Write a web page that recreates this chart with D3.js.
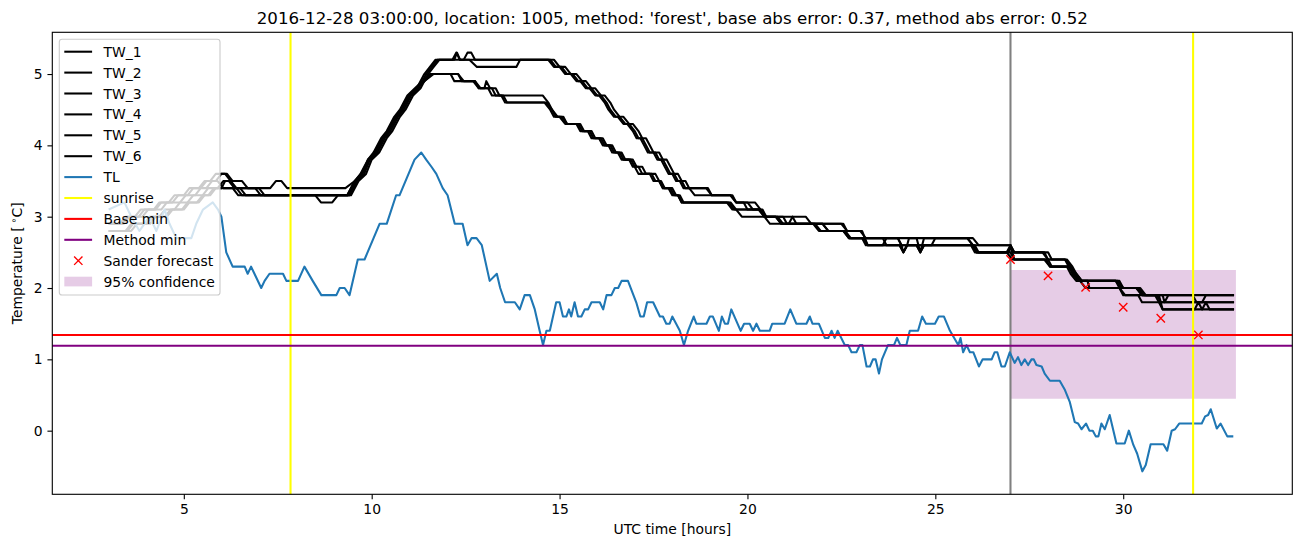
<!DOCTYPE html>
<html><head><meta charset="utf-8">
<script src="https://cdn.jsdelivr.net/npm/d3@7"></script>
<style>body{margin:0;background:#fff}svg{display:block}text{font-family:"DejaVu Sans",sans-serif;fill:#000}</style>
</head><body><svg id="c" width="1302" height="547"></svg>
<script>
const titleText = "2016-12-28 03:00:00, location: 1005, method: 'forest', base abs error: 0.37, method abs error: 0.52";
const xTicks = [5, 10, 15, 20, 25, 30];
const yTicks = [0, 1, 2, 3, 4, 5];
const legendLabels = ["TW_1","TW_2","TW_3","TW_4","TW_5","TW_6","TL","sunrise","Base min","Method min","Sander forecast","95% confidence"];

const tlHours = [3.0,3.42,3.6,3.82,4.09,4.27,4.49,4.62,4.8,5.2,5.33,5.51,5.77,5.91,6.0,6.13,6.3,6.62,6.7,6.79,6.88,7.06,7.15,7.28,7.64,7.73,8.04,8.21,8.43,8.66,9.06,9.15,9.28,9.41,9.63,9.81,10.21,10.4,10.65,10.74,11.14,11.32,11.45,11.59,11.72,11.89,12.02,12.21,12.42,12.55,12.66,12.79,12.93,13.14,13.33,13.42,13.55,13.81,13.94,14.07,14.21,14.34,14.47,14.56,14.65,14.74,14.91,15.0,15.09,15.18,15.25,15.31,15.4,15.49,15.58,15.67,15.76,15.85,16.07,16.16,16.25,16.38,16.47,16.56,16.65,16.82,17.04,17.15,17.24,17.33,17.49,17.67,17.75,17.84,17.93,18.0,18.2,18.31,18.42,18.57,18.64,18.91,19.0,19.08,19.24,19.32,19.4,19.48,19.57,19.82,19.91,20.06,20.15,20.24,20.33,20.59,20.66,20.99,21.14,21.3,21.57,21.66,21.73,21.9,22.06,22.15,22.24,22.32,22.4,22.59,22.68,22.77,22.9,22.99,23.06,23.17,23.26,23.34,23.41,23.5,23.58,23.74,23.9,23.98,24.07,24.23,24.32,24.54,24.65,24.75,24.99,25.09,25.23,25.39,25.61,25.67,25.74,25.83,25.92,26.01,26.16,26.26,26.5,26.58,26.65,26.76,26.85,26.98,27.11,27.2,27.29,27.38,27.47,27.56,27.62,27.69,27.83,27.91,28.05,28.31,28.45,28.58,28.71,28.8,28.89,29.01,29.1,29.19,29.27,29.34,29.42,29.51,29.64,29.82,30.04,30.15,30.27,30.37,30.51,30.6,30.73,31.07,31.17,31.29,31.38,31.49,32.09,32.18,32.26,32.33,32.49,32.59,32.77,32.93];
const tlValues = [3.1,3.2,3.0,2.8,3.0,2.8,3.1,2.9,2.7,2.7,2.9,3.1,3.2,3.1,3.0,2.5,2.3,2.3,2.2,2.3,2.2,2.0,2.1,2.2,2.2,2.1,2.1,2.3,2.1,1.9,1.9,2.0,2.0,1.9,2.4,2.4,2.9,2.9,3.3,3.3,3.8,3.9,3.8,3.7,3.6,3.4,3.3,2.9,2.9,2.6,2.7,2.7,2.6,2.1,2.2,2.0,1.8,1.8,1.7,1.9,1.9,1.7,1.4,1.2,1.4,1.4,1.8,1.8,1.6,1.6,1.7,1.6,1.8,1.6,1.6,1.7,1.7,1.8,1.8,1.7,1.9,1.9,2.0,2.0,2.1,2.1,1.8,1.6,1.6,1.8,1.8,1.6,1.6,1.5,1.5,1.6,1.4,1.2,1.4,1.6,1.5,1.5,1.6,1.6,1.4,1.6,1.5,1.5,1.7,1.4,1.5,1.5,1.4,1.5,1.4,1.4,1.5,1.5,1.7,1.5,1.5,1.6,1.5,1.5,1.3,1.3,1.4,1.3,1.4,1.2,1.2,1.1,1.1,1.2,1.2,0.9,0.9,1.0,1.0,0.8,1.0,1.2,1.2,1.3,1.2,1.2,1.4,1.4,1.6,1.5,1.5,1.6,1.6,1.4,1.2,1.3,1.1,1.2,1.1,1.1,0.9,1.0,1.0,1.1,1.1,0.9,0.9,1.1,0.95,1.03,0.92,1.0,0.92,1.0,1.0,0.92,0.9,0.8,0.7,0.7,0.57,0.4,0.12,0.1,0.02,0.1,0.0,0.0,-0.08,-0.08,0.1,0.02,0.22,-0.18,-0.18,0.0,-0.2,-0.32,-0.57,-0.48,-0.19,-0.19,-0.28,0.0,0.02,0.1,0.1,0.2,0.22,0.3,0.03,0.1,-0.08,-0.08];

const tw1 = [[3.0,2.9],[3.4,2.9],[3.55,3.0],[3.9,3.0],[4.05,3.1],[4.4,3.1],[4.55,3.2],[4.9,3.2],[5.05,3.3],[5.3,3.3],[5.45,3.4],[5.6,3.4],[5.75,3.5],[5.85,3.5],[6.0,3.6],[6.15,3.6],[6.3,3.5],[6.55,3.5],[6.7,3.4],[7.3,3.4],[7.45,3.5],[7.6,3.5],[7.75,3.4],[9.3,3.4],[9.55,3.5],[9.75,3.6],[9.9,3.8],[10.1,3.9],[10.3,4.1],[10.45,4.2],[10.65,4.4],[10.8,4.5],[11.0,4.7],[11.2,4.8],[11.4,5.0],[11.55,5.1],[11.7,5.2],[12.15,5.2],[12.25,5.3],[12.35,5.2],[12.45,5.2],[12.55,5.3],[12.65,5.3],[12.75,5.2],[14.7,5.2],[14.85,5.1],[15.0,5.1],[15.15,5.0],[15.3,5.0],[15.45,4.9],[15.55,4.9],[15.7,4.8],[15.8,4.8],[15.95,4.7],[16.05,4.7],[16.2,4.6],[16.3,4.5],[16.45,4.4],[16.55,4.4],[16.7,4.3],[16.8,4.3],[16.95,4.2],[17.05,4.1],[17.15,4.1],[17.25,4.0],[17.35,3.9],[17.5,3.9],[17.6,3.8],[17.7,3.8],[17.8,3.7],[17.9,3.6],[18.0,3.6],[18.1,3.5],[18.2,3.5],[18.3,3.4],[18.9,3.4],[19.05,3.3],[19.55,3.3],[19.7,3.2],[20.0,3.2],[20.15,3.1],[20.3,3.1],[20.45,3.0],[21.55,3.0],[21.7,2.9],[22.5,2.9],[22.65,2.8],[23.0,2.8],[23.15,2.7],[25.85,2.7],[26.0,2.6],[27.0,2.6],[27.1,2.5],[27.85,2.5],[28.0,2.4],[28.45,2.4],[28.6,2.3],[28.75,2.2],[28.9,2.1],[29.85,2.1],[30.0,2.0],[30.4,2.0],[30.55,1.9],[31.05,1.9],[31.1,1.8],[31.2,1.9],[32.95,1.9]];
const tw2 = [[3.0,2.8],[3.5,2.8],[3.65,2.9],[4.0,2.9],[4.15,3.0],[4.5,3.0],[4.65,3.1],[4.95,3.1],[5.1,3.2],[5.35,3.2],[5.5,3.3],[5.65,3.3],[5.8,3.4],[5.9,3.4],[6.05,3.5],[6.2,3.5],[6.35,3.4],[7.0,3.4],[7.15,3.3],[9.4,3.3],[9.6,3.5],[9.8,3.6],[9.95,3.8],[10.15,3.9],[10.35,4.1],[10.5,4.2],[10.7,4.4],[10.85,4.5],[11.05,4.7],[11.25,4.8],[11.45,5.0],[11.6,5.1],[11.75,5.2],[12.6,5.2],[12.8,5.1],[13.85,5.1],[13.95,5.2],[14.75,5.2],[14.9,5.1],[15.05,5.1],[15.2,5.0],[15.35,5.0],[15.5,4.9],[15.6,4.9],[15.75,4.8],[15.85,4.8],[16.0,4.7],[16.1,4.7],[16.25,4.6],[16.35,4.5],[16.5,4.4],[16.6,4.4],[16.75,4.3],[16.85,4.3],[17.0,4.2],[17.1,4.1],[17.2,4.1],[17.3,4.0],[17.4,3.9],[17.55,3.9],[17.65,3.8],[17.75,3.8],[17.85,3.7],[17.95,3.6],[18.05,3.6],[18.15,3.5],[18.25,3.5],[18.35,3.4],[18.45,3.4],[18.6,3.3],[19.55,3.3],[19.7,3.2],[20.2,3.2],[20.35,3.1],[20.45,3.0],[20.8,3.0],[20.95,2.9],[22.0,2.9],[22.15,2.8],[22.6,2.8],[22.75,2.7],[24.0,2.7],[24.1,2.6],[24.15,2.5],[24.25,2.6],[24.3,2.7],[24.5,2.7],[24.6,2.5],[24.7,2.7],[26.0,2.7],[26.15,2.6],[27.0,2.6],[27.1,2.5],[28.0,2.5],[28.1,2.4],[28.5,2.4],[28.65,2.3],[28.75,2.2],[28.9,2.1],[29.9,2.1],[30.0,2.0],[30.45,2.0],[30.6,1.9],[31.85,1.9],[31.95,1.8],[32.1,1.8],[32.2,1.9],[32.95,1.9]];
const tw3 = [[3.0,2.8],[3.6,2.8],[3.75,2.9],[4.1,2.9],[4.25,3.0],[4.55,3.0],[4.7,3.1],[5.0,3.1],[5.15,3.2],[5.4,3.2],[5.55,3.3],[5.7,3.3],[5.85,3.4],[6.0,3.4],[6.1,3.5],[6.25,3.5],[6.4,3.4],[6.9,3.4],[7.05,3.3],[9.45,3.3],[9.65,3.5],[9.85,3.6],[10.0,3.8],[10.2,3.9],[10.4,4.1],[10.55,4.2],[10.75,4.4],[10.9,4.5],[11.1,4.7],[11.3,4.8],[11.5,5.0],[11.65,5.1],[11.8,5.2],[12.2,5.2],[12.27,5.3],[12.35,5.2],[14.85,5.2],[15.0,5.1],[15.15,5.1],[15.3,5.0],[15.45,5.0],[15.6,4.9],[15.7,4.9],[15.85,4.8],[15.95,4.8],[16.1,4.7],[16.2,4.7],[16.35,4.6],[16.45,4.5],[16.6,4.4],[16.7,4.4],[16.85,4.3],[16.95,4.3],[17.1,4.2],[17.2,4.1],[17.3,4.1],[17.4,4.0],[17.5,3.9],[17.65,3.9],[17.75,3.8],[17.85,3.8],[17.95,3.7],[18.05,3.6],[18.15,3.6],[18.25,3.5],[18.35,3.5],[18.45,3.4],[18.95,3.4],[19.05,3.3],[19.6,3.3],[19.7,3.2],[19.9,3.2],[20.0,3.1],[20.4,3.1],[20.5,3.0],[20.95,3.0],[21.05,2.9],[21.75,2.9],[21.9,2.8],[22.55,2.8],[22.7,2.7],[23.6,2.7],[23.7,2.6],[24.05,2.6],[24.15,2.5],[24.25,2.6],[24.5,2.6],[24.6,2.5],[24.7,2.6],[25.95,2.6],[26.05,2.5],[26.95,2.5],[27.0,2.6],[27.05,2.5],[27.9,2.5],[28.0,2.4],[28.45,2.4],[28.55,2.3],[28.7,2.2],[28.85,2.1],[29.8,2.1],[29.9,2.0],[30.35,2.0],[30.5,1.9],[30.9,1.9],[31.0,1.8],[32.95,1.8]];
const tw4 = [[3.0,2.9],[3.3,2.9],[3.45,3.0],[3.7,3.0],[3.85,3.1],[4.2,3.1],[4.35,3.2],[4.6,3.2],[4.75,3.3],[5.0,3.3],[5.15,3.4],[5.4,3.4],[5.55,3.5],[5.7,3.5],[5.85,3.6],[6.1,3.6],[6.25,3.5],[6.35,3.4],[6.5,3.4],[6.65,3.3],[8.5,3.3],[8.65,3.2],[8.95,3.2],[9.1,3.3],[9.35,3.3],[9.55,3.5],[9.7,3.6],[9.9,3.8],[10.05,3.9],[10.25,4.1],[10.4,4.2],[10.6,4.4],[10.75,4.5],[10.95,4.7],[11.15,4.8],[11.35,4.9],[11.55,5.0],[12.3,5.0],[12.45,4.9],[12.75,4.9],[12.9,4.8],[13.0,4.8],[13.05,4.9],[13.15,4.8],[13.3,4.8],[13.4,4.7],[14.55,4.7],[14.7,4.6],[14.8,4.5],[14.95,4.4],[15.1,4.4],[15.2,4.3],[15.5,4.3],[15.6,4.2],[15.8,4.2],[15.9,4.1],[16.1,4.1],[16.2,4.0],[16.35,4.0],[16.45,3.9],[16.6,3.9],[16.7,3.8],[16.9,3.8],[17.0,3.7],[17.1,3.6],[17.55,3.6],[17.65,3.5],[17.75,3.4],[17.9,3.4],[18.0,3.3],[18.15,3.3],[18.25,3.2],[19.5,3.2],[19.65,3.1],[20.35,3.1],[20.5,3.0],[20.75,3.0],[20.9,2.9],[21.8,2.9],[21.95,2.8],[22.55,2.8],[22.7,2.7],[23.05,2.7],[23.15,2.6],[26.0,2.6],[26.1,2.5],[26.9,2.5],[27.0,2.6],[27.05,2.5],[27.1,2.4],[27.9,2.4],[28.05,2.3],[28.6,2.3],[28.7,2.2],[28.85,2.1],[29.0,2.0],[29.9,2.0],[30.0,1.9],[30.4,1.9],[30.5,1.8],[30.95,1.8],[31.05,1.7],[32.1,1.7],[32.2,1.8],[32.3,1.7],[32.95,1.7]];
const tw5 = [[3.0,2.8],[3.45,2.8],[3.6,2.9],[3.95,2.9],[4.1,3.0],[4.35,3.0],[4.5,3.1],[4.75,3.1],[4.9,3.2],[5.1,3.2],[5.25,3.3],[5.5,3.3],[5.65,3.4],[6.4,3.4],[6.55,3.3],[9.4,3.3],[9.6,3.5],[9.75,3.6],[9.95,3.8],[10.1,3.9],[10.3,4.1],[10.45,4.2],[10.65,4.4],[10.8,4.5],[11.0,4.7],[11.2,4.8],[11.4,4.9],[11.6,5.0],[12.1,5.0],[12.2,4.9],[12.75,4.9],[12.85,4.8],[13.2,4.8],[13.3,4.7],[13.45,4.7],[13.55,4.6],[14.6,4.6],[14.75,4.5],[14.85,4.4],[15.0,4.4],[15.15,4.3],[15.45,4.3],[15.55,4.2],[15.75,4.2],[15.85,4.1],[16.05,4.1],[16.15,4.0],[16.3,4.0],[16.4,3.9],[16.55,3.9],[16.65,3.8],[16.85,3.8],[16.95,3.7],[17.1,3.7],[17.2,3.6],[17.4,3.6],[17.5,3.5],[17.65,3.5],[17.75,3.4],[17.95,3.4],[18.05,3.3],[18.15,3.3],[18.25,3.2],[19.55,3.2],[19.7,3.1],[19.85,3.0],[20.75,3.0],[20.9,2.9],[22.55,2.9],[22.65,2.8],[23.05,2.8],[23.2,2.6],[24.05,2.6],[24.15,2.5],[24.25,2.6],[24.5,2.6],[24.6,2.5],[24.7,2.6],[26.05,2.6],[26.15,2.5],[27.0,2.5],[27.1,2.4],[28.0,2.4],[28.1,2.3],[28.55,2.3],[28.65,2.2],[28.8,2.1],[29.8,2.1],[29.95,2.0],[30.35,2.0],[30.5,1.9],[30.85,1.9],[30.95,1.8],[32.95,1.8]];
const tw6 = [[3.0,2.9],[3.35,2.9],[3.5,3.0],[3.8,3.0],[3.95,3.1],[4.25,3.1],[4.4,3.2],[4.7,3.2],[4.85,3.3],[5.1,3.3],[5.25,3.4],[5.45,3.4],[5.6,3.5],[5.9,3.5],[6.05,3.4],[6.3,3.4],[6.45,3.3],[9.35,3.3],[9.55,3.5],[9.72,3.6],[9.92,3.8],[10.08,3.9],[10.28,4.1],[10.43,4.2],[10.63,4.4],[10.78,4.5],[10.98,4.7],[11.18,4.8],[11.4,4.9],[11.65,5.0],[12.3,5.0],[12.4,4.9],[12.7,4.9],[12.85,4.8],[13.1,4.8],[13.2,4.7],[13.5,4.7],[13.6,4.6],[14.65,4.6],[14.8,4.5],[14.9,4.4],[15.05,4.4],[15.2,4.3],[15.55,4.3],[15.65,4.2],[15.85,4.2],[15.95,4.1],[16.15,4.1],[16.25,4.0],[16.4,4.0],[16.5,3.9],[16.65,3.9],[16.75,3.8],[16.95,3.8],[17.05,3.7],[17.2,3.7],[17.3,3.6],[17.45,3.6],[17.55,3.5],[17.7,3.5],[17.8,3.4],[18.0,3.4],[18.1,3.3],[18.2,3.3],[18.3,3.2],[19.45,3.2],[19.6,3.1],[20.3,3.1],[20.45,3.0],[20.6,2.9],[21.1,2.9],[21.2,3.0],[21.3,2.9],[22.0,2.9],[22.15,2.8],[22.6,2.8],[22.7,2.7],[23.1,2.7],[23.2,2.6],[23.6,2.6],[23.7,2.7],[24.0,2.7],[24.1,2.6],[24.9,2.6],[25.0,2.7],[25.85,2.7],[26.0,2.6],[26.1,2.5],[26.9,2.5],[27.05,2.4],[27.95,2.4],[28.05,2.3],[28.5,2.3],[28.6,2.2],[28.75,2.1],[29.05,2.1],[29.1,2.0],[29.9,2.0],[30.05,1.9],[30.95,1.9],[31.05,1.7],[31.9,1.7],[32.0,1.8],[32.1,1.7],[32.95,1.7]];
const twSeries = [tw1, tw2, tw3, tw4, tw5, tw6];

const sunriseHours = [7.84, 31.86];
const nowHour = 27.0;
const baseMin = 1.342;
const methodMin = 1.19;
const sanderHours = [27, 28, 29, 30, 31, 32];
const sanderValues = [2.40, 2.17, 2.01, 1.73, 1.576, 1.342];
const confHours = [27, 33];
const confLow = [0.449, 0.449];
const confHigh = [2.253, 2.253];

const svg = d3.select("#c");
const L = 52.3, R = 1292.3, T = 32.3, B = 494.3;
const x = d3.scaleLinear().domain([1.5, 34.5]).range([L, R]);
const y = d3.scaleLinear().domain([-0.892, 5.585]).range([B, T]);

const plot = svg.append("g");
const area = d3.area().x((d,i)=>x(confHours[i])).y0((d,i)=>y(confLow[i])).y1((d,i)=>y(confHigh[i]));
plot.append("path").attr("d", area(confHours)).attr("fill", "purple").attr("fill-opacity", 0.2);
plot.append("line").attr("x1", x(nowHour)).attr("x2", x(nowHour)).attr("y1", T).attr("y2", B).attr("stroke", "gray").attr("stroke-width", 2.08);
const line = d3.line().x(d=>x(d[0])).y(d=>y(d[1]));
twSeries.forEach(s => plot.append("path").attr("d", line(s)).attr("fill","none").attr("stroke","black").attr("stroke-width",2.08).attr("stroke-linejoin","round"));
const tl = tlHours.map((h,i)=>[h, tlValues[i]]);
plot.append("path").attr("d", line(tl)).attr("fill","none").attr("stroke","#1f77b4").attr("stroke-width",2.08).attr("stroke-linejoin","round");
sunriseHours.forEach(h => plot.append("line").attr("x1", x(h)).attr("x2", x(h)).attr("y1", T).attr("y2", B).attr("stroke", "yellow").attr("stroke-width", 2.08));
plot.append("line").attr("x1", L).attr("x2", R).attr("y1", y(baseMin)).attr("y2", y(baseMin)).attr("stroke", "red").attr("stroke-width", 2.08);
plot.append("line").attr("x1", L).attr("x2", R).attr("y1", y(methodMin)).attr("y2", y(methodMin)).attr("stroke", "purple").attr("stroke-width", 2.08);
const m = 4.17;
sanderHours.forEach((h,i) => {
  const cx = x(h), cy = y(sanderValues[i]);
  plot.append("path").attr("d", `M${cx-m},${cy-m}L${cx+m},${cy+m}M${cx-m},${cy+m}L${cx+m},${cy-m}`).attr("stroke","red").attr("stroke-width",1.39);
});

const xAxis = d3.axisBottom(x).tickValues(xTicks).tickSize(4.86).tickPadding(4.86).tickFormat(d3.format("d"));
const yAxis = d3.axisLeft(y).tickValues(yTicks).tickSize(4.86).tickPadding(4.86).tickFormat(d3.format("d"));
const gx = svg.append("g").attr("transform", `translate(0,${B})`).call(xAxis);
const gy = svg.append("g").attr("transform", `translate(${L},0)`).call(yAxis);
[gx, gy].forEach(g => {
  g.select(".domain").remove();
  g.selectAll("line").attr("stroke","#000").attr("stroke-width",1.11);
  g.selectAll("text").attr("font-size","13.9px").attr("font-family","DejaVu Sans").attr("fill","#000");
});
svg.append("rect").attr("x",L).attr("y",T).attr("width",R-L).attr("height",B-T).attr("fill","none").attr("stroke","#000").attr("stroke-width",1.11);

svg.append("text").attr("x",(L+R)/2).attr("y",24).attr("text-anchor","middle").attr("font-size","16.67px").text(titleText);
svg.append("text").attr("x",(L+R)/2).attr("y",534).attr("text-anchor","middle").attr("font-size","13.9px").text("UTC time [hours]");
const yl = svg.append("text").attr("transform",`translate(22,${(T+B)/2}) rotate(-90)`).attr("text-anchor","middle").attr("font-size","13.9px");
yl.append("tspan").text("Temperature [\u2009");
yl.append("tspan").attr("font-size","9.7px").attr("dy",-5).text("\u2218");
yl.append("tspan").attr("dy",5).text("C]");

const lg = svg.append("g");
lg.append("rect").attr("x",59.3).attr("y",39.3).attr("width",160.7).attr("height",255.7).attr("rx",2.8)
  .attr("fill","white").attr("fill-opacity",0.8).attr("stroke","#cccccc").attr("stroke-width",1.11);
const legendColors = ["black","black","black","black","black","black","#1f77b4","yellow","red","purple","red","purple"];
const rowStep = 20.9;
legendLabels.forEach((lab,i) => {
  const yy = 51.7 + i*rowStep;
  if (i === 10) {
    const cx = 78.3;
    lg.append("path").attr("d",`M${cx-m},${yy-m}L${cx+m},${yy+m}M${cx-m},${yy+m}L${cx+m},${yy-m}`).attr("stroke","red").attr("stroke-width",1.39);
  } else if (i === 11) {
    lg.append("rect").attr("x",64.3).attr("y",yy-4.9).attr("width",27.8).attr("height",9.7).attr("fill","purple").attr("fill-opacity",0.2);
  } else {
    lg.append("line").attr("x1",64.3).attr("x2",92.1).attr("y1",yy).attr("y2",yy).attr("stroke",legendColors[i]).attr("stroke-width",2.08);
  }
  lg.append("text").attr("x",103.5).attr("y",yy).attr("dy","0.36em").attr("font-size","13.9px").text(lab);
});
</script></body></html>
